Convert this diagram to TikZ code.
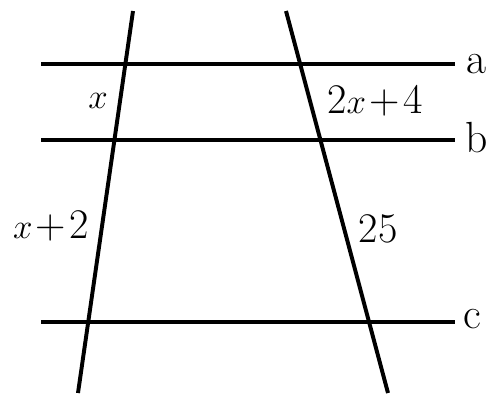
\documentclass[tikz,border=0pt]{standalone}
\tikzstyle{parline} = [line width=2.8pt,
                       line cap=butt]
\tikzstyle{transline} = [line width=2.8pt,
                       line cap=butt]
\tikzstyle{seglabel} = [anchor=base,
                       inner sep=0pt,
                       font=\fontsize{30}{32}\selectfont]
\tikzstyle{linename} = [anchor=base west,
                       inner sep=0pt,
                       font=\fontsize{31}{33}\selectfont]
\newcommand{\pl}{\kern.08em+\kern.08em}

\begin{document}
\begin{tikzpicture}[x=0.025cm,y=-0.025cm]
     \useasboundingbox (0,0) rectangle (493,397);
     % parallel lines a, b, c
     \coordinate (a1) at (41,64);
     \coordinate (a2) at (455,64);
     \coordinate (b1) at (41,140);
     \coordinate (b2) at (455,140);
     \coordinate (c1) at (41,322);
     \coordinate (c2) at (455,322);
     \draw [parline] (a1) -- (a2);
     \draw [parline] (b1) -- (b2);
     \draw [parline] (c1) -- (c2);
     % the two transversals
     \coordinate (l1) at (133,11);
     \coordinate (l2) at (78,393);
     \coordinate (r1) at (286,11);
     \coordinate (r2) at (388,393);
     \draw [transline] (l1) -- (l2);
     \draw [transline] (r1) -- (r2);
     % names of the lines
     \node [linename] (na) at (466,73) {a};
     \node [linename] (nb) at (465,152) {b};
     \node [linename] (nc) at (463,328) {c};
     % segment lengths
     \node [seglabel] (sx) at (98,108) {$x$};
     \node [seglabel] (s2x) at (375,113) {2$x$\pl 4};
     \node [seglabel] (sx2) at (51,238) {$x$\pl 2};
     \node [seglabel] (s25) at (378,242) {25};
\end{tikzpicture}
\end{document}
